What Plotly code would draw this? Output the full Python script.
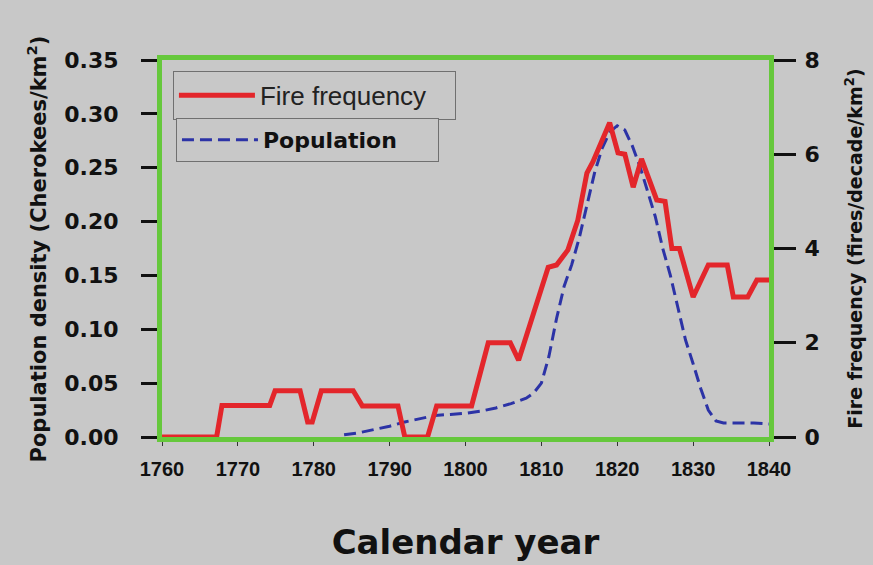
import plotly.graph_objects as go

# Fire frequency (fires/decade/km2), right axis
fire_years = [1760, 1767.2, 1767.9, 1774.2, 1774.9, 1778.2, 1779.2, 1779.8, 1781.0,
              1785.2, 1786.4, 1791.1, 1792.0, 1795.0, 1796.2, 1800.8, 1803.0, 1805.9,
              1807.0, 1808.9, 1810.9, 1812.0, 1813.5, 1814.8, 1816.0, 1816.8, 1819.0,
              1820.1, 1821.0, 1822.1, 1823.2, 1825.2, 1826.3, 1827.2, 1828.2, 1830.0,
              1832.0, 1834.5, 1835.3, 1837.2, 1838.4, 1840]
fire_values = [0, 0, 0.67, 0.67, 0.98, 0.98, 0.32, 0.32, 0.98,
               0.98, 0.66, 0.66, 0, 0, 0.66, 0.66, 2.0, 2.0,
               1.63, 2.63, 3.6, 3.65, 3.97, 4.6, 5.6, 5.84, 6.67,
               6.03, 6.0, 5.3, 5.9, 5.03, 5.0, 4.0, 4.0, 2.97,
               3.65, 3.65, 2.97, 2.97, 3.33, 3.33]

# Population density (Cherokees/km2), left axis
pop_years = [1784, 1786, 1788, 1790, 1792, 1794, 1796, 1798, 1800, 1802, 1804, 1806,
             1808, 1809, 1810, 1811, 1812, 1813, 1814, 1815, 1816, 1817, 1818, 1819,
             1820, 1821, 1822, 1823, 1824, 1825, 1826, 1827, 1828, 1829, 1830, 1831,
             1832, 1833, 1834, 1836, 1838, 1840]
pop_values = [0.002, 0.004, 0.007, 0.010, 0.014, 0.017, 0.020, 0.021, 0.022, 0.024,
              0.027, 0.031, 0.036, 0.041, 0.050, 0.075, 0.110, 0.140, 0.160, 0.185,
              0.215, 0.245, 0.268, 0.283, 0.289, 0.285, 0.270, 0.251, 0.228, 0.205,
              0.175, 0.150, 0.120, 0.090, 0.068, 0.045, 0.025, 0.015, 0.013, 0.013,
              0.013, 0.012]

x_ticks = [1760, 1770, 1780, 1790, 1800, 1810, 1820, 1830, 1840]
left_ticks = [0.0, 0.05, 0.10, 0.15, 0.20, 0.25, 0.30, 0.35]
right_ticks = [0, 2, 4, 6, 8]

BG = "#c8c8c8"
GREEN = "#66c83c"
RED = "#e3262b"
BLUE = "#2c33a6"
BOLD = "DejaVu Sans"
ARIAL = "Liberation Sans, Arial"

fig = go.Figure()
fig.add_trace(go.Scatter(
    x=pop_years, y=pop_values, mode="lines", name="<b>Population</b>",
    line=dict(color=BLUE, width=3, dash="12px,6px"), yaxis="y", legend="legend2"))
fig.add_trace(go.Scatter(
    x=fire_years, y=fire_values, mode="lines", name="Fire frequency",
    line=dict(color=RED, width=5), yaxis="y2", legend="legend"))

fig.update_layout(
    width=873, height=565,
    margin=dict(l=162, r=104, t=60, b=128),
    paper_bgcolor=BG, plot_bgcolor=BG,
    showlegend=True,
    xaxis=dict(
        range=[1760, 1840], tickvals=x_ticks, showgrid=False, zeroline=False,
        showline=True, linecolor=GREEN, linewidth=5, mirror=True, automargin=False,
        ticks="outside", ticklen=4, tickwidth=1, tickcolor="#333333",
        tickfont=dict(family=ARIAL, size=20, color="#111111", weight="bold"),
        ticklabelstandoff=6, layer="below traces",
        title=dict(text="Calendar year", standoff=53,
                   font=dict(family=BOLD, size=34, color="#111111", weight="bold")),
    ),
    yaxis=dict(
        range=[0, 0.35], tickvals=left_ticks, tickformat=".2f", showgrid=False,
        zeroline=False, showline=True, linecolor=GREEN, linewidth=5, automargin=False,
        ticks="outside", ticklen=16, tickwidth=3, tickcolor="#111111",
        tickfont=dict(family=BOLD, size=22, color="#111111", weight="bold"),
        ticklabelstandoff=18, layer="below traces",
    ),
    yaxis2=dict(
        range=[0, 8], tickvals=right_ticks, overlaying="y", side="right",
        showgrid=False, zeroline=False, showline=True, linecolor=GREEN, linewidth=5,
        automargin=False,
        ticks="outside", ticklen=22, tickwidth=3, tickcolor="#111111",
        tickfont=dict(family=BOLD, size=22, color="#111111", weight="bold"),
        ticklabelstandoff=4, layer="below traces",
        title=dict(text="Fire frequency (fires/decade/km<sup>2</sup>)", standoff=31,
                   font=dict(family=BOLD, size=19, color="#111111", weight="bold")),
    ),
    annotations=[dict(
        text="Population density (Cherokees/km<sup>2</sup>)", textangle=-90,
        xref="paper", yref="paper", x=-0.206, y=0.50, xanchor="center", yanchor="middle",
        showarrow=False, font=dict(family=BOLD, size=21, color="#111111", weight="bold"),
    )],
    legend=dict(
        x=0.018, y=0.971, xanchor="left", yanchor="top", orientation="h",
        bgcolor=BG, bordercolor="#707070", borderwidth=1,
        entrywidth=190, entrywidthmode="pixels", itemwidth=76,
        font=dict(family=ARIAL, size=26, color="#222222"),
    ),
    legend2=dict(
        x=0.023, y=0.846, xanchor="left", yanchor="top", orientation="h",
        bgcolor=BG, bordercolor="#707070", borderwidth=1,
        entrywidth=170, entrywidthmode="pixels", itemwidth=76,
        font=dict(family=BOLD, size=22, color="#111111"),
    ),
)

fig.write_html("out.html", config={"displayModeBar": False},
               post_script="document.body.style.margin='0';")
